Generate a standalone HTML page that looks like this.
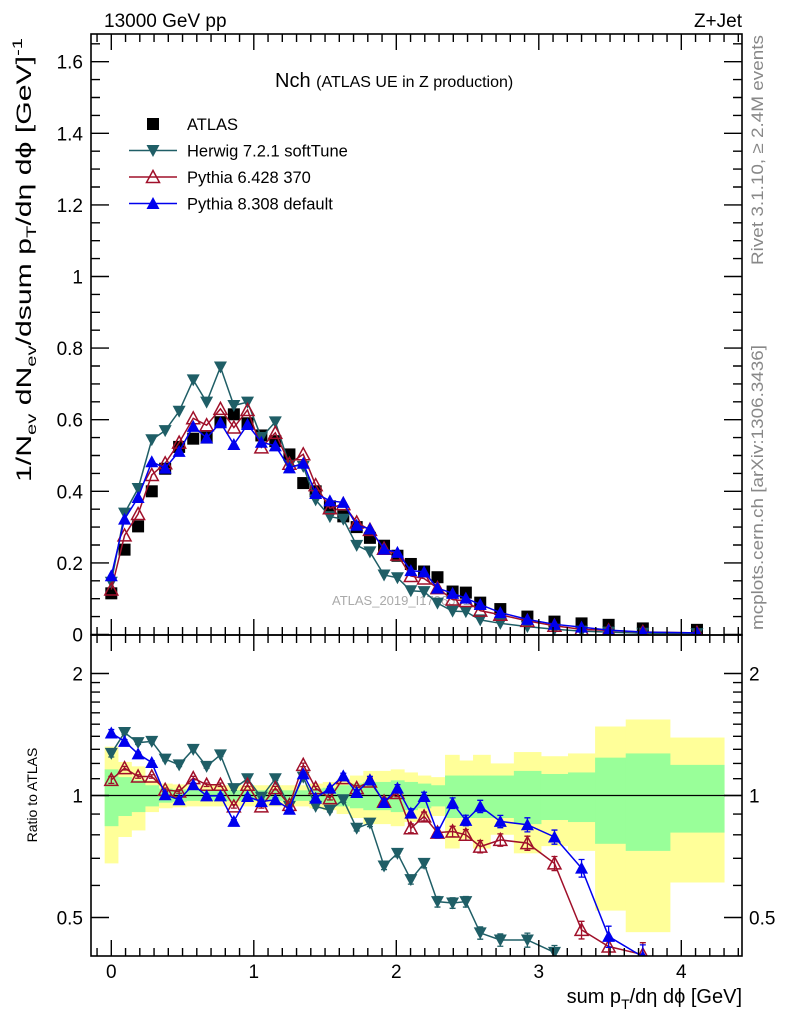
<!DOCTYPE html>
<html><head><meta charset="utf-8"><style>
html,body{margin:0;padding:0;background:#fff;overflow:hidden;width:786px;height:1024px;}
svg{display:block;font-family:"Liberation Sans",sans-serif;}
</style></head><body>
<svg id="chart" width="786" height="1024" viewBox="0 0 786 1024" xmlns="http://www.w3.org/2000/svg">
<defs>
<clipPath id="clipMain"><rect x="91" y="34" width="651" height="601"/></clipPath>
<clipPath id="clipRatio"><rect x="91" y="635" width="651" height="321"/></clipPath>
</defs>
<text x="104" y="27" font-size="19">13000 GeV pp</text>
<text x="742" y="27" font-size="19" text-anchor="end">Z+Jet</text>
<text x="275" y="87" font-size="20">Nch <tspan font-size="16">(ATLAS UE in Z production)</tspan></text>
<text x="332" y="605" font-size="13" fill="#aaa">ATLAS_2019_I1736531</text>
<text transform="translate(763,265) rotate(-90)" font-size="17" fill="#888" textLength="230" lengthAdjust="spacingAndGlyphs">Rivet 3.1.10, ≥ 2.4M events</text>
<text transform="translate(763,630) rotate(-90)" font-size="17" fill="#888" textLength="285" lengthAdjust="spacingAndGlyphs">mcplots.cern.ch [arXiv:1306.3436]</text>
<text transform="translate(31,482) rotate(-90)" font-size="21" textLength="444" lengthAdjust="spacingAndGlyphs">1/N<tspan font-size="14" dy="5">ev</tspan><tspan dy="-5"> dN</tspan><tspan font-size="14" dy="5">ev</tspan><tspan dy="-5">/dsum p</tspan><tspan font-size="14" dy="5">T</tspan><tspan dy="-5">/dη dϕ  [GeV]</tspan><tspan font-size="14" dy="-9">-1</tspan></text>
<text transform="translate(37,795) rotate(-90)" font-size="14" text-anchor="middle">Ratio to ATLAS</text>
<text x="742" y="1003" font-size="20" text-anchor="end">sum p<tspan font-size="14" dy="6">T</tspan><tspan dy="-6">/dη dϕ [GeV]</tspan></text>
<g id="bands" clip-path="url(#clipRatio)"></g>
<g id="marks"></g>
<g id="axes"></g>
<g id="legend"></g>
</svg>
<script>
const xs=[0,0.093,0.188,0.284,0.378,0.476,0.575,0.669,0.766,0.86,0.956,1.053,1.151,1.25,1.347,1.434,1.534,1.628,1.722,1.815,1.914,2.008,2.102,2.195,2.289,2.395,2.488,2.589,2.73,2.92,3.11,3.30,3.49,3.73,4.11];
const atlas=[0.115,0.237,0.302,0.40,0.463,0.524,0.547,0.55,0.593,0.615,0.59,0.556,0.54,0.503,0.423,0.40,0.358,0.33,0.30,0.27,0.248,0.22,0.197,0.176,0.16,0.12,0.117,0.089,0.071,0.05,0.036,0.031,0.027,0.017,0.013];
const herwigRatio=[1.27,1.43,1.35,1.36,1.23,1.19,1.30,1.18,1.26,1.04,1.10,0.99,1.10,0.94,1.11,0.94,0.92,0.976,0.83,0.855,0.67,0.72,0.62,0.68,0.547,0.543,0.547,0.458,0.44,0.44,0.41,0.3,0.25,0.2,0.2];
const py6Ratio=[1.093,1.168,1.114,1.114,1.033,1.023,1.104,1.063,1.063,0.94,1.063,0.94,1.043,0.948,1.19,1.043,0.985,1.104,1.043,1.083,0.966,1.014,0.83,0.888,0.81,0.815,0.80,0.748,0.777,0.763,0.68,0.466,0.424,0.405,0.35];
const py8Ratio=[1.426,1.36,1.267,1.206,1.004,0.976,1.063,0.998,0.998,0.863,0.994,0.966,0.976,0.925,1.131,0.985,1.043,1.118,1.017,1.093,0.961,1.043,0.905,0.994,0.81,0.958,0.868,0.94,0.863,0.847,0.79,0.662,0.449,0.40,0.35];
const totErr=[.32,.21,.18,.09,.07,.065,.06,.06,.06,.06,.06,.06,.06,.06,.06,.07,.08,.1,.12,.15,.15,.16,.14,.12,.11,.26,.22,.26,.2,.28,.25,.27,.48,.54,.39];
const statErr=[.16,.11,.09,.06,.04,.035,.03,.03,.03,.03,.03,.03,.03,.03,.03,.04,.045,.06,.07,.08,.08,.09,.08,.07,.06,.12,.12,.12,.12,.15,.13,.14,.24,.27,.19];
const mcErr=[.02,.01,.01,.01,.01,.01,.01,.01,.01,.01,.01,.01,.01,.01,.01,.01,.01,.015,.015,.02,.02,.02,.025,.025,.03,.03,.03,.035,.035,.04,.04,.05,.06,.07,.08];
const xTicks=[0,1,2,3,4];
const yTicks=[0,0.2,0.4,0.6,0.8,1,1.2,1.4,1.6];
const yTickLabels=["0","0.2","0.4","0.6","0.8","1","1.2","1.4","1.6"];
const rTicks=[0.5,1,2];
const rTickLabels=["0.5","1","2"];

const NS="http://www.w3.org/2000/svg";
const L=91,R=742,T=34,M=635,B=956;
const X=v=>111.3+v*142.5;
const Y=v=>634.5-v*358;
const RY=r=>795.5-176*Math.log(r);
function mk(parent,tag,attrs){const e=document.createElementNS(NS,tag);for(const k in attrs)e.setAttribute(k,attrs[k]);parent.appendChild(e);return e;}
const bands=document.getElementById('bands'),marks=document.getElementById('marks'),axes=document.getElementById('axes'),legend=document.getElementById('legend');

const edges=[];
edges.push(xs[0]-(xs[1]-xs[0])/2);
for(let i=0;i<xs.length-1;i++)edges.push((xs[i]+xs[i+1])/2);
edges.push(xs[xs.length-1]+(xs[xs.length-1]-edges[edges.length-1]));
for(let i=0;i<xs.length;i++){
  const e=mk(bands,'rect',{x:X(edges[i]),width:X(edges[i+1])-X(edges[i])+0.5,y:RY(1+totErr[i]),height:RY(1-totErr[i])-RY(1+totErr[i]),fill:'#ffff99'});
  
  
}
for(let i=0;i<xs.length;i++){
  const e=mk(bands,'rect',{x:X(edges[i]),width:X(edges[i+1])-X(edges[i])+0.5,y:RY(1+statErr[i]),height:RY(1-statErr[i])-RY(1+statErr[i]),fill:'#99ff99'});
  
  
}
const one=mk(bands,'line',{x1:L,x2:R,y1:RY(1),y2:RY(1),stroke:'#000','stroke-width':1.3});



function marker(g,type,cx,cy,color){
  let e;
  if(type==='square')e=mk(g,'rect',{x:cx-6,y:cy-6,width:12,height:12,fill:'#000'});
  else if(type==='down')e=mk(g,'polygon',{points:`${cx-6.5},${cy-5.5} ${cx+6.5},${cy-5.5} ${cx},${cy+6.5}`,fill:color});
  else if(type==='up')e=mk(g,'polygon',{points:`${cx-6.5},${cy+5.5} ${cx+6.5},${cy+5.5} ${cx},${cy-6.5}`,fill:color});
  else e=mk(g,'polygon',{points:`${cx-6.5},${cy+5.5} ${cx+6.5},${cy+5.5} ${cx},${cy-6.5}`,fill:'none',stroke:color,'stroke-width':1.5});
  return e;
}
const gMain=mk(marks,'g',{'clip-path':'url(#clipMain)'});


const gRatio=mk(marks,'g',{'clip-path':'url(#clipRatio)'});



for(let i=0;i<xs.length;i++){
  const e=marker(gMain,'square',X(xs[i]),Y(atlas[i]));
  
  
}
const series=[
 {name:'herwig',ratio:herwigRatio,color:'#1f5e66',type:'down'},
 {name:'pythia6',ratio:py6Ratio,color:'#a0102a',type:'open'},
 {name:'pythia8',ratio:py8Ratio,color:'#0000ee',type:'up'}];
series.forEach(s=>{
  const mp=xs.map((x,i)=>X(x)+','+Y(atlas[i]*s.ratio[i])).join(' ');
  const l1=mk(gMain,'polyline',{points:mp,fill:'none',stroke:s.color,'stroke-width':1.5});
  
  
  const rp=xs.map((x,i)=>X(x)+','+RY(s.ratio[i])).join(' ');
  const l2=mk(gRatio,'polyline',{points:rp,fill:'none',stroke:s.color,'stroke-width':1.5});
  
  
  for(let i=0;i<xs.length;i++){
    const cx=X(xs[i]);
    const m=marker(gMain,s.type,cx,Y(atlas[i]*s.ratio[i]),s.color);
    
    
    const r=s.ratio[i],up=RY(r*(1+mcErr[i])),dn=RY(r*(1-mcErr[i]));
    const eb=mk(gRatio,'path',{d:`M${cx},${up}V${dn}M${cx-3},${up}h6M${cx-3},${dn}h6`,stroke:s.color,'stroke-width':1.3,fill:'none'});
    
    
    const rm=marker(gRatio,s.type,cx,RY(r),s.color);
    
    
  }
});

[[T,M],[M,B]].forEach((p,k)=>{
  const f=mk(axes,'rect',{x:L,y:p[0],width:R-L,height:p[1]-p[0],fill:'none',stroke:'#000','stroke-width':1.6});
  
  
});
let td='';
for(let v=-0.1;v<=4.41;v+=0.1){
  const x=X(v),maj=Math.abs(v-Math.round(v))<1e-6;const h=maj?16:8;
  td+=`M${x},${T}v${h}M${x},${M}v${-h}M${x},${M}v${h}M${x},${B}v${-h}`;
}
for(let v=0;v<=1.66;v+=0.05){
  const y=Y(v),maj=Math.abs(v/0.2-Math.round(v/0.2))<1e-6;const w=maj?18:9;
  td+=`M${L},${y}h${w}M${R},${y}h${-w}`;
}
[0.5,0.6,0.7,0.8,0.9,1,1.1,1.2,1.3,1.4,1.5,1.6,1.7,1.8,1.9,2].forEach(v=>{
  const y=RY(v),maj=(v===0.5||v===1||v===2);const w=maj?18:9;
  td+=`M${L},${y}h${w}M${R},${y}h${-w}`;
});
const tp=mk(axes,'path',{d:td,stroke:'#000','stroke-width':1.4,fill:'none'});


xTicks.forEach(v=>{
  const t=mk(axes,'text',{x:X(v),y:978,'font-size':19,'text-anchor':'middle'});t.textContent=v;
  
  
});
yTicks.forEach((v,i)=>{
  const t=mk(axes,'text',{x:83,y:Y(v)+7,'font-size':19,'text-anchor':'end'});t.textContent=yTickLabels[i];
  
  
});
rTicks.forEach((v,i)=>{
  const t=mk(axes,'text',{x:83,y:RY(v)+7,'font-size':19,'text-anchor':'end'});t.textContent=rTickLabels[i];
  
  
  const t2=mk(axes,'text',{x:749,y:RY(v)+7,'font-size':19});t2.textContent=rTickLabels[i];
  
  
});

const leg=[{t:'ATLAS',type:'square',c:'#000'},{t:'Herwig 7.2.1 softTune',type:'down',c:'#1f5e66'},{t:'Pythia 6.428 370',type:'open',c:'#a0102a'},{t:'Pythia 8.308 default',type:'up',c:'#0000ee'}];
leg.forEach((e,i)=>{
  const y=124+i*26.5;
  const g=mk(legend,'g',{});
  
  
  if(e.type!=='square')mk(g,'line',{x1:129,x2:177,y1:y,y2:y,stroke:e.c,'stroke-width':1.5});
  marker(g,e.type,153,y,e.c);
  const t=mk(g,'text',{x:187,y:y+6,'font-size':16.5});t.textContent=e.t;
});
</script>
</body></html>
